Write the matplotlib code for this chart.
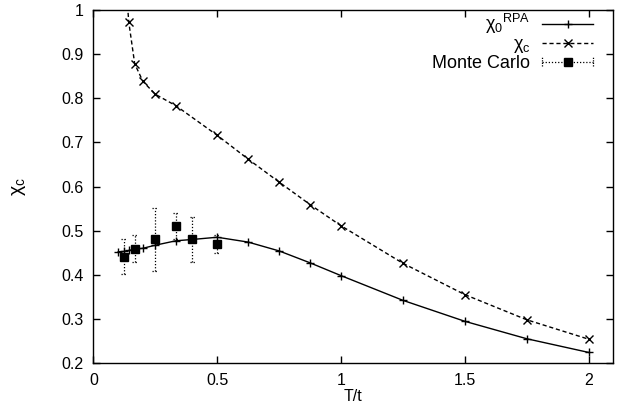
import matplotlib
matplotlib.use("Agg")
import matplotlib.pyplot as plt
from matplotlib.lines import Line2D
from matplotlib.legend_handler import HandlerBase

plt.rcParams['font.family'] = ['Liberation Sans', 'DejaVu Sans']
plt.rcParams['mathtext.fontset'] = 'custom'
plt.rcParams['mathtext.rm'] = 'Liberation Sans'
plt.rcParams['mathtext.it'] = 'Liberation Sans'
plt.rcParams['mathtext.bf'] = 'Liberation Sans:bold'

# ---- data ----
t_rpa = [0.1, 0.125, 1/7, 1/6, 0.2, 0.25, 1/3, 0.4, 0.5, 0.625, 0.75, 0.875,
         1.0, 1.25, 1.5, 1.75, 2.0]
chi0_rpa = [0.452, 0.453, 0.455, 0.458, 0.460, 0.467, 0.477, 0.480, 0.485,
            0.474, 0.454, 0.427, 0.398, 0.342, 0.2945, 0.255, 0.224]

t_chic = [0.125, 1/7, 1/6, 0.2, 0.25, 1/3, 0.5, 0.625, 0.75, 0.875, 1.0,
          1.25, 1.5, 1.75, 2.0]
chi_c = [1.10, 0.972, 0.878, 0.838, 0.809, 0.783, 0.716, 0.662, 0.610,
         0.559, 0.511, 0.426, 0.355, 0.298, 0.254]

t_mc = [0.125, 1/6, 0.25, 1/3, 0.4, 0.5]
chi_mc = [0.441, 0.459, 0.480, 0.511, 0.480, 0.470]
err_mc = [0.040, 0.031, 0.071, 0.030, 0.050, 0.020]

xticks = [0, 0.5, 1, 1.5, 2]
xticklabels = ['0', '0.5', '1', '1.5', '2']
yticks = [0.2, 0.3, 0.4, 0.5, 0.6, 0.7, 0.8, 0.9, 1.0]
yticklabels = ['0.2', '0.3', '0.4', '0.5', '0.6', '0.7', '0.8', '0.9', '1']

fig = plt.figure(figsize=(6.23, 4.17), dpi=100)
ax = fig.add_axes([0.150, 0.1295, 0.8345, 0.8465])

ax.plot(t_rpa, chi0_rpa, '-', color='black', lw=1.0, marker='+',
        markersize=6, markeredgewidth=1.0)
ax.plot(t_chic, chi_c, color='black', lw=1.0, linestyle=(0, (3, 2)),
        marker='x', markersize=6, markeredgewidth=1.0)
eb = ax.errorbar(t_mc, chi_mc, yerr=err_mc, fmt='s', color='black',
                 markersize=6, ecolor='black', elinewidth=0.9, capsize=0)
for lc in eb[2]:
    lc.set_linestyle((0, (1, 1.5)))
# dotted caps drawn as short segments
for x, y, e in zip(t_mc, chi_mc, err_mc):
    for yy in (y - e, y + e):
        ax.plot([x - 0.012, x + 0.012], [yy, yy], color='black', lw=0.9,
                linestyle=(0, (1, 1.5)))

ax.set_xlim(0, 2.1)
ax.set_ylim(0.2, 1.0)
ax.set_xticks(xticks)
ax.set_xticklabels(xticklabels)
ax.set_yticks(yticks)
ax.set_yticklabels(yticklabels)
ax.tick_params(direction='in', length=5, width=1, top=True, right=True,
               labelsize=11.5)
ax.tick_params(axis='x', pad=7)
ax.tick_params(axis='y', pad=7)
for s in ax.spines.values():
    s.set_linewidth(1.0)

ax.set_xlabel('T/t', fontsize=11.5, labelpad=1)
ax.set_ylabel(r'$\chi_{\rm c}$', fontsize=14, labelpad=24)


class MCHandler(HandlerBase):
    def create_artists(self, legend, orig_handle, xdescent, ydescent,
                       width, height, fontsize, trans):
        y = height / 2 - ydescent
        x0, x1 = -xdescent, width - xdescent
        line = Line2D([x0, x1], [y, y], color='black', lw=0.9,
                      linestyle=(0, (1, 1.5)), transform=trans)
        c1 = Line2D([x0, x0], [y - 3, y + 3], color='black', lw=0.9,
                    linestyle=(0, (1, 1)), transform=trans)
        c2 = Line2D([x1, x1], [y - 3, y + 3], color='black', lw=0.9,
                    linestyle=(0, (1, 1)), transform=trans)
        m = Line2D([(x0 + x1) / 2], [y], marker='s', color='black',
                   markersize=6, linestyle='none', transform=trans)
        return [line, c1, c2, m]


h1 = Line2D([], [], color='black', lw=1.0, marker='+', markersize=6)
h2 = Line2D([], [], color='black', lw=1.0, linestyle=(0, (3, 2)),
            marker='x', markersize=6)
h3 = object()
leg = ax.legend([h1, h2, h3],
                [r'$\chi_0{}^{\rm RPA}$', r'$\chi_{\rm c}$', 'Monte Carlo'],
                handler_map={object: MCHandler()},
                loc='upper right', frameon=False, markerfirst=False,
                handlelength=2.85, fontsize=13, labelspacing=0.0,
                borderaxespad=0.0, borderpad=0.1, handletextpad=0.65,
                bbox_to_anchor=(0.965, 1.0))
for t in leg.get_texts():
    t.set_horizontalalignment('right')
leg._legend_box.align = 'right'

fig.savefig('out.png', dpi=100)
